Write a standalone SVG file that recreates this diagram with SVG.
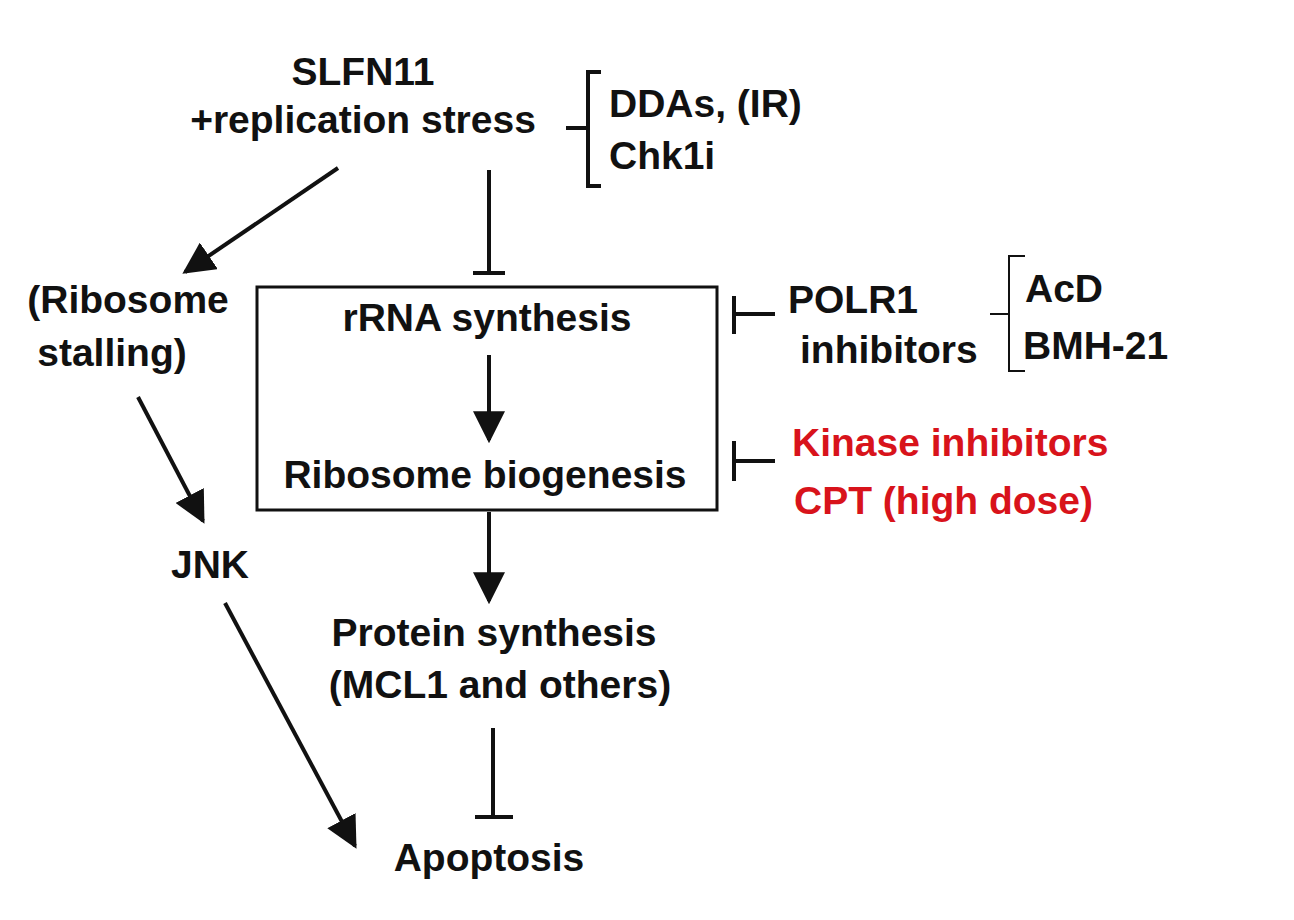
<svg xmlns="http://www.w3.org/2000/svg" width="1294" height="920" viewBox="0 0 1294 920">
<defs>
<marker id="a" viewBox="0 0 10 10" refX="9" refY="5" markerWidth="8" markerHeight="8" orient="auto"><path d="M0,0 L10,5 L0,10 z" fill="#111"/></marker>
</defs>
<style>
text{font-family:"Liberation Sans",Arial,sans-serif;font-weight:bold;font-size:39px;fill:#111}
.r{fill:#d8131b}
.l{stroke:#111;stroke-width:4;fill:none}
.t{stroke:#111;stroke-width:2;fill:none}
</style>
<rect width="1294" height="920" fill="#fff"/>
<g id="left-edge">
<text x="-13" y="393">)</text><text x="-13" y="441">)</text><text x="-13" y="561">)</text><text x="-13" y="613">)</text>
</g>
<g id="slfn11"><text x="363" y="85" text-anchor="middle">SLFN11</text><text x="363" y="133" text-anchor="middle">+replication stress</text></g>
<g id="dda"><text x="609" y="117">DDAs, (IR)</text><text x="609" y="169">Chk1i</text>
<path class="l" d="M566,128 H588 M601,72 H588 V186 H601"/></g>
<g id="box"><rect x="257" y="287" width="460" height="223" fill="none" stroke="#111" stroke-width="3"/></g>
<g id="rrna"><text x="487" y="331" text-anchor="middle">rRNA synthesis</text></g>
<g id="ribo"><text x="485" y="488" text-anchor="middle">Ribosome biogenesis</text></g>
<g id="stall"><text x="128" y="313" text-anchor="middle">(Ribosome</text><text x="112" y="366" text-anchor="middle">stalling)</text></g>
<g id="jnk"><text x="210" y="578" text-anchor="middle">JNK</text></g>
<g id="polr1"><text x="788" y="313">POLR1</text><text x="800" y="363">inhibitors</text></g>
<g id="acd"><text x="1025" y="302">AcD</text><text x="1023" y="359">BMH-21</text>
<path class="t" d="M990,314 H1009 M1025,256 H1009 V371 H1025"/></g>
<g id="kinase"><text class="r" x="792" y="456">Kinase inhibitors</text><text class="r" x="794" y="514">CPT (high dose)</text></g>
<g id="protein"><text x="494" y="646" text-anchor="middle">Protein synthesis</text><text x="500" y="698" text-anchor="middle">(MCL1 and others)</text></g>
<g id="apop"><text x="489" y="871" text-anchor="middle">Apoptosis</text></g>
<g id="connectors">
<path class="l" d="M489,170 V273 M473,273 H505"/>
<path class="l" d="M775,314 H734 M734,296 V334"/>
<path class="l" d="M775,461 H734 M734,441 V481"/>
<path class="l" d="M493,728 V817 M475,817 H513"/>
<path class="l" marker-end="url(#a)" d="M489,355 V440"/>
<path class="l" marker-end="url(#a)" d="M489,512 V601"/>
<path class="l" marker-end="url(#a)" d="M338,168 L185,272"/>
<path class="l" marker-end="url(#a)" d="M138,397 L203,521"/>
<path class="l" marker-end="url(#a)" d="M225,603 L355,846"/>
</g>
</svg>
